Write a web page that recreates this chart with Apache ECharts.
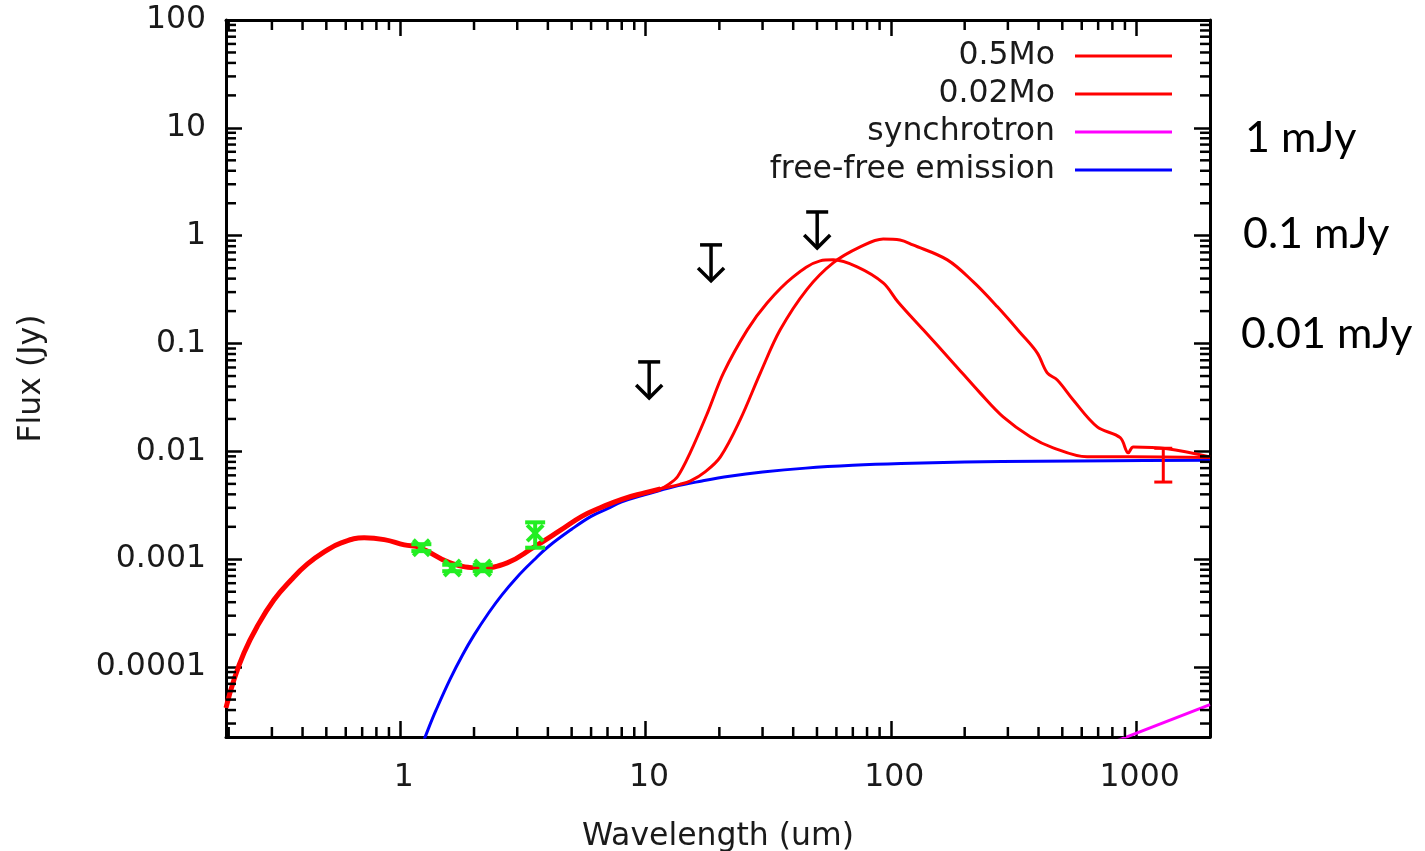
<!DOCTYPE html>
<html><head><meta charset="utf-8">
<script src="https://cdn.jsdelivr.net/npm/echarts@6/dist/echarts.min.js"></script>
<style>html,body{margin:0;padding:0;background:#fff}#c{width:1425px;height:851px}</style>
</head><body><div id="c"></div>
<script>
// Axis ranges
const X_MIN = 0.195, X_MAX = 2000, Y_MIN = 2.25e-5, Y_MAX = 100;

// Shared part of both disk models (star + free-free)
const sharedWl   = [0.195, 0.21, 0.231, 0.261, 0.306, 0.36, 0.418, 0.49, 0.575, 0.713, 0.861, 1.04, 1.206, 1.6, 2.12, 2.73, 3.48, 4.49, 5.5, 6.54, 8.0, 10.0, 11.5];
const sharedFlux = [4.2e-5, 7.6e-5, 1.36e-4, 2.37e-4, 4.21e-4, 6.46e-4, 9.0e-4, 1.17e-3, 1.42e-3, 1.58e-3, 1.52e-3, 1.36e-3, 1.28e-3, 9.27e-4, 8.34e-4, 9.27e-4, 1.28e-3, 1.85e-3, 2.5e-3, 3.0e-3, 3.6e-3, 4.15e-3, 4.5e-3];

// 0.5 Mo model (long-wavelength peak)
const m05Wl   = [13.8, 15.2, 17.5, 20.2, 24.3, 29.4, 35.4, 45.6, 58.2, 75, 93.1, 109, 123, 170, 217, 272, 337, 395, 434, 477, 554, 694, 861, 929, 973, 1338, 2000];
const m05Flux = [4.95e-3, 5.3e-3, 6.47e-3, 8.91e-3, 0.0196, 0.0535, 0.134, 0.32, 0.56, 0.787, 0.934, 0.914, 0.822, 0.597, 0.373, 0.219, 0.126, 0.082, 0.0535, 0.046, 0.030, 0.0169, 0.0134, 9.7e-3, 0.0110, 0.0106, 8.9e-3];

// 0.02 Mo model (short-wavelength peak)
const m002Wl   = [12.5, 13.5, 15.2, 17.9, 20.8, 26.0, 31.3, 40.0, 51.5, 58.2, 72.9, 93.1, 107, 135.6, 179.6, 231, 287, 370, 459, 631, 946, 2000];
const m002Flux = [5.0e-3, 5.82e-3, 9.7e-3, 0.0228, 0.0535, 0.134, 0.238, 0.415, 0.584, 0.597, 0.514, 0.365, 0.243, 0.134, 0.0662, 0.0349, 0.0209, 0.0137, 0.0108, 8.91e-3, 8.91e-3, 8.8e-3];

// Free-free emission
const freeWl   = [1.2, 1.3, 1.4, 1.6, 1.8, 2.0, 2.3, 2.6, 3.0, 3.5, 4.0, 5.0, 6.0, 7.0, 8.0, 10, 13, 17, 22, 30, 45, 70, 110, 200, 400, 800, 2000];
const freeFlux = [1.64e-5, 2.65e-5, 3.99e-5, 7.78e-5, 1.31e-4, 1.98e-4, 3.21e-4, 4.68e-4, 6.86e-4, 9.79e-4, 1.3e-3, 1.9e-3, 2.5e-3, 2.95e-3, 3.4e-3, 3.98e-3, 4.7e-3, 5.32e-3, 5.89e-3, 6.44e-3, 7.0e-3, 7.43e-3, 7.72e-3, 7.96e-3, 8.1e-3, 8.2e-3, 8.3e-3];

// Synchrotron
const syncWl   = [800, 2000];
const syncFlux = [2.0e-5, 4.5e-5];

// Near-IR photometry (green)
const nirWl   = [1.22, 1.63, 2.17, 3.55];
const nirFlux = [1.28e-3, 8.3e-4, 8.3e-4, 1.75e-3];
const nirLo   = [1.19e-3, 7.75e-4, 7.75e-4, 1.28e-3];
const nirHi   = [1.38e-3, 8.9e-4, 8.9e-4, 2.2e-3];

// mm point (red error bar)
const mmWl = [1290], mmFlux = [7.5e-3], mmLo = [5.2e-3], mmHi = [0.0107];

// Upper limits (black arrows)
const limWl   = [10.35, 18.5, 50.1];
const limFlux = [0.0676, 0.822, 1.66];

// Legend / annotation labels
const legendNames = ['0.5Mo', '0.02Mo', 'synchrotron', 'free-free emission'];
const sideNotes = ['1 mJy', '0.1 mJy', '0.01 mJy'];

// minor tick values (2..9 per decade)
const xMinor = [], yMinor = [];
for (let d = -1; d <= 3; d++) for (let k = 2; k <= 9; k++) { const v = k * Math.pow(10, d); if (v > X_MIN && v < X_MAX) xMinor.push(v); }
for (let d = -5; d <= 1; d++) for (let k = 2; k <= 9; k++) { const v = k * Math.pow(10, d); if (v > Y_MIN && v < Y_MAX) yMinor.push(v); }

const zip = (a, b) => a.map((v, i) => [v, b[i]]);
const FONT = 'DejaVu Sans';
const TXT = '#1a1a1a';
const FS = 31.5;

function fmt(v) {
  const l = Math.log10(v), e = Math.round(l);
  if (Math.abs(l - e) > 0.01) return '';
  return e >= 0 ? String(Math.pow(10, e)) : Math.pow(10, e).toFixed(-e);
}

const baseX = { type: 'log', logBase: 10, min: X_MIN, max: X_MAX, splitLine: { show: false } };
const baseY = { type: 'log', logBase: 10, min: Y_MIN, max: Y_MAX, splitLine: { show: false } };
const axLine = { show: true, onZero: false, lineStyle: { color: '#000', width: 3 } };
const axTick = { show: true, inside: true, length: 16, lineStyle: { color: '#000', width: 2.5 } };

const chart = echarts.init(document.getElementById('c'));
chart.setOption({
  animation: false,
  backgroundColor: '#fff',
  grid: { left: 226, right: 215, top: 20, bottom: 114, containLabel: false, outerBoundsMode: 'none' },
  xAxis: [
    Object.assign({}, baseX, {
      position: 'bottom', axisLine: axLine, axisTick: axTick,
      axisLabel: { show: true, formatter: fmt, showMinLabel: false, showMaxLabel: false, margin: 25, padding: [0, 0, 0, 7], fontFamily: FONT, fontSize: FS, color: TXT },
      name: 'Wavelength (um)', nameLocation: 'middle', nameGap: 84,
      nameTextStyle: { fontFamily: FONT, fontSize: FS, color: TXT }
    }),
    Object.assign({}, baseX, { position: 'top', axisLine: axLine, axisTick: axTick, axisLabel: { show: false } })
  ],
  yAxis: [
    Object.assign({}, baseY, {
      position: 'left', axisLine: axLine, axisTick: axTick,
      axisLabel: { show: true, formatter: fmt, showMinLabel: false, margin: 20, fontFamily: FONT, fontSize: FS, color: TXT },
      name: 'Flux (Jy)', nameLocation: 'middle', nameGap: 178,
      nameTextStyle: { fontFamily: FONT, fontSize: FS, color: TXT }
    }),
    Object.assign({}, baseY, { position: 'right', axisLine: axLine, axisTick: axTick, axisLabel: { show: false } })
  ],
  legend: {
    data: legendNames, orient: 'vertical', right: 253, top: 40, align: 'right',
    icon: 'rect', itemWidth: 97, itemHeight: 3, itemGap: 6, padding: 0,
    textStyle: { fontFamily: FONT, fontSize: FS, color: TXT, lineHeight: 32, padding: [0, 15, 0, 0] },
    selectedMode: false
  },
  graphic: sideNotes.map((t, i) => ({
    type: 'text', left: [1245, 1243, 1241][i], top: [142, 238, 338][i] - 25,
    style: { text: t, font: '43px Lato', fill: '#000' }
  })),
  series: [
    { name: 'free-free emission', type: 'line', data: zip(freeWl, freeFlux), smooth: 0.4, symbol: 'none', clip: true,
      lineStyle: { color: '#0000ff', width: 3 }, itemStyle: { color: '#0000ff' }, z: 3 },
    { name: 'synchrotron', type: 'line', data: zip(syncWl, syncFlux), symbol: 'none', clip: true,
      lineStyle: { color: '#ff00ff', width: 3 }, itemStyle: { color: '#ff00ff' }, z: 3 },
    { name: '0.02Mo', type: 'line', data: zip(sharedWl.concat(m002Wl), sharedFlux.concat(m002Flux)), smooth: 0.35, symbol: 'none', clip: true,
      lineStyle: { color: '#ff0000', width: 3 }, itemStyle: { color: '#ff0000' }, z: 4 },
    { name: '0.5Mo', type: 'line', data: zip(sharedWl.concat(m05Wl), sharedFlux.concat(m05Flux)), smooth: 0.35, symbol: 'none', clip: true,
      lineStyle: { color: '#ff0000', width: 3 }, itemStyle: { color: '#ff0000' }, z: 4 },
    // thicker shared SED segment
    { name: 'shared', type: 'line', data: zip(sharedWl, sharedFlux), smooth: 0.45, symbol: 'none', clip: true,
      lineStyle: { color: '#ff0000', width: 5 }, z: 4 },
    // minor ticks x
    { type: 'custom', xAxisIndex: 0, yAxisIndex: 0, data: xMinor.map(v => [v, 1]), z: 10, silent: true,
      renderItem: (params, api) => {
        const p = api.coord([api.value(0), 1]); const cs = params.coordSys;
        const st = { stroke: '#000', lineWidth: 2.5 };
        return { type: 'group', children: [
          { type: 'line', shape: { x1: p[0], y1: cs.y + cs.height, x2: p[0], y2: cs.y + cs.height - 10 }, style: st },
          { type: 'line', shape: { x1: p[0], y1: cs.y, x2: p[0], y2: cs.y + 10 }, style: st }
        ] };
      } },
    // minor ticks y
    { type: 'custom', xAxisIndex: 0, yAxisIndex: 0, data: yMinor.map(v => [1, v]), z: 10, silent: true,
      renderItem: (params, api) => {
        const p = api.coord([1, api.value(1)]); const cs = params.coordSys;
        const st = { stroke: '#000', lineWidth: 2.5 };
        return { type: 'group', children: [
          { type: 'line', shape: { x1: cs.x, y1: p[1], x2: cs.x + 10, y2: p[1] }, style: st },
          { type: 'line', shape: { x1: cs.x + cs.width, y1: p[1], x2: cs.x + cs.width - 10, y2: p[1] }, style: st }
        ] };
      } },
    // green photometry with error bars and X markers
    { type: 'custom', data: nirWl.map((w, i) => [w, nirFlux[i], nirLo[i], nirHi[i]]), z: 6, silent: true,
      renderItem: (params, api) => {
        const c = api.coord([api.value(0), api.value(1)]);
        const lo = api.coord([api.value(0), api.value(2)]);
        const hi = api.coord([api.value(0), api.value(3)]);
        const st = { stroke: '#22ee22', lineWidth: 4 };
        const s = 8, w = 10;
        return { type: 'group', children: [
          { type: 'line', shape: { x1: c[0], y1: lo[1], x2: c[0], y2: hi[1] }, style: st },
          { type: 'line', shape: { x1: c[0] - w, y1: lo[1], x2: c[0] + w, y2: lo[1] }, style: st },
          { type: 'line', shape: { x1: c[0] - w, y1: hi[1], x2: c[0] + w, y2: hi[1] }, style: st },
          { type: 'line', shape: { x1: c[0] - s, y1: c[1] - s, x2: c[0] + s, y2: c[1] + s }, style: st },
          { type: 'line', shape: { x1: c[0] - s, y1: c[1] + s, x2: c[0] + s, y2: c[1] - s }, style: st }
        ] };
      } },
    // mm error bar
    { type: 'custom', data: mmWl.map((w, i) => [w, mmFlux[i], mmLo[i], mmHi[i]]), z: 6, silent: true,
      renderItem: (params, api) => {
        const c = api.coord([api.value(0), api.value(1)]);
        const lo = api.coord([api.value(0), api.value(2)]);
        const hi = api.coord([api.value(0), api.value(3)]);
        const st = { stroke: '#ff0000', lineWidth: 3 };
        const w = 9;
        return { type: 'group', children: [
          { type: 'line', shape: { x1: c[0], y1: lo[1], x2: c[0], y2: hi[1] }, style: st },
          { type: 'line', shape: { x1: c[0] - w, y1: lo[1], x2: c[0] + w, y2: lo[1] }, style: st },
          { type: 'line', shape: { x1: c[0] - w, y1: hi[1], x2: c[0] + w, y2: hi[1] }, style: st }
        ] };
      } },
    // upper-limit arrows
    { type: 'custom', data: zip(limWl, limFlux), z: 6, silent: true,
      renderItem: (params, api) => {
        const c = api.coord([api.value(0), api.value(1)]);
        const st = { stroke: '#000', lineWidth: 3.5, fill: 'none' };
        const L = 36;
        return { type: 'group', children: [
          { type: 'line', shape: { x1: c[0] - 11, y1: c[1], x2: c[0] + 11, y2: c[1] }, style: st },
          { type: 'line', shape: { x1: c[0], y1: c[1], x2: c[0], y2: c[1] + L }, style: st },
          { type: 'polyline', shape: { points: [[c[0] - 13, c[1] + L - 13], [c[0], c[1] + L], [c[0] + 13, c[1] + L - 13]] }, style: st }
        ] };
      } }
  ]
});
</script></body></html>
